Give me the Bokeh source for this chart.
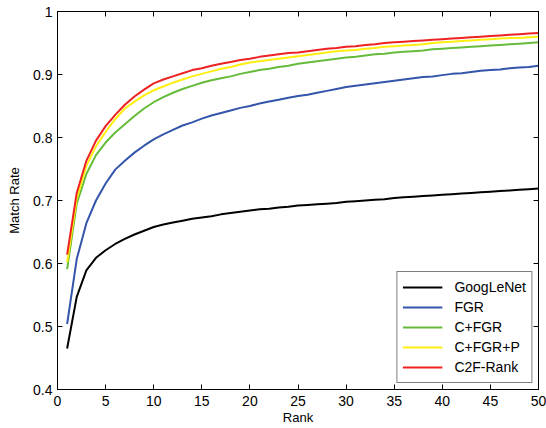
from bokeh.plotting import figure
from bokeh.models import LinearAxis, FixedTicker, CustomJSTickFormatter, Legend, LegendItem
from bokeh.embed import file_html
from bokeh.resources import INLINE

rank = list(range(1, 51))

googlenet = [0.465, 0.547, 0.589, 0.609, 0.621, 0.631, 0.639, 0.646, 0.652, 0.658,
             0.662, 0.665, 0.668, 0.671, 0.673, 0.675, 0.678, 0.680, 0.682, 0.684,
             0.686, 0.687, 0.689, 0.690, 0.692, 0.693, 0.694, 0.695, 0.696, 0.698,
             0.699, 0.700, 0.701, 0.702, 0.704, 0.705, 0.706, 0.707, 0.708, 0.709,
             0.710, 0.711, 0.712, 0.713, 0.714, 0.715, 0.716, 0.717, 0.718, 0.719]
fgr = [0.504, 0.607, 0.664, 0.700, 0.727, 0.749, 0.763, 0.776, 0.787, 0.797,
       0.805, 0.812, 0.819, 0.824, 0.830, 0.835, 0.839, 0.843, 0.847, 0.850,
       0.854, 0.857, 0.860, 0.863, 0.866, 0.868, 0.871, 0.874, 0.877, 0.880,
       0.882, 0.884, 0.886, 0.888, 0.890, 0.892, 0.894, 0.896, 0.897, 0.899,
       0.901, 0.902, 0.904, 0.906, 0.907, 0.908, 0.910, 0.911, 0.912, 0.914]
c_fgr = [0.591, 0.695, 0.742, 0.772, 0.792, 0.808, 0.821, 0.834, 0.846, 0.856,
         0.864, 0.871, 0.877, 0.882, 0.887, 0.891, 0.894, 0.897, 0.901, 0.904,
         0.907, 0.909, 0.912, 0.914, 0.917, 0.919, 0.921, 0.923, 0.925, 0.927,
         0.928, 0.930, 0.932, 0.933, 0.935, 0.936, 0.937, 0.938, 0.940, 0.941,
         0.942, 0.943, 0.944, 0.945, 0.946, 0.947, 0.948, 0.949, 0.950, 0.951]
c_fgr_p = [0.602, 0.703, 0.755, 0.786, 0.809, 0.829, 0.846, 0.857, 0.867, 0.875,
           0.881, 0.887, 0.892, 0.897, 0.901, 0.905, 0.909, 0.912, 0.916, 0.919,
           0.921, 0.923, 0.925, 0.927, 0.929, 0.931, 0.933, 0.935, 0.937, 0.938,
           0.939, 0.941, 0.942, 0.944, 0.945, 0.946, 0.947, 0.948, 0.950, 0.951,
           0.952, 0.953, 0.954, 0.955, 0.956, 0.957, 0.958, 0.958, 0.959, 0.960]
c2f_rank = [0.614, 0.712, 0.763, 0.795, 0.818, 0.836, 0.852, 0.865, 0.876, 0.886,
            0.892, 0.897, 0.902, 0.907, 0.910, 0.914, 0.917, 0.920, 0.923, 0.925,
            0.928, 0.930, 0.932, 0.934, 0.935, 0.937, 0.939, 0.941, 0.942, 0.944,
            0.945, 0.947, 0.948, 0.950, 0.951, 0.952, 0.953, 0.954, 0.955, 0.956,
            0.957, 0.958, 0.959, 0.960, 0.961, 0.962, 0.963, 0.964, 0.965, 0.966]

series_names = ["GoogLeNet", "FGR", "C+FGR", "C+FGR+P", "C2F-Rank"]
series_values = [googlenet, fgr, c_fgr, c_fgr_p, c2f_rank]
series_colors = ["#000000", "#3355aa", "#66bb3a", "#ffee11", "#ee2222"]

x_ticks = [0, 5, 10, 15, 20, 25, 30, 35, 40, 45, 50]
y_ticks = [0.4, 0.5, 0.6, 0.7, 0.8, 0.9, 1.0]

FONT = "Liberation Sans"

p = figure(width=546, height=428, x_range=(0, 50), y_range=(0.4, 1.0),
           output_backend="svg", toolbar_location=None,
           min_border_left=57, min_border_right=8, min_border_top=11, min_border_bottom=39)
p.xgrid.visible = False
p.ygrid.visible = False
p.outline_line_color = "black"
p.outline_line_width = 1
p.background_fill_color = "white"
p.border_fill_color = "white"

renderers = []
for name, vals, col in zip(series_names, series_values, series_colors):
    r = p.line(rank, vals, line_color=col, line_width=2)
    renderers.append((name, r))

fmt = CustomJSTickFormatter(code="return tick.toFixed(1).replace(/\\.0$/, '');")
blank = CustomJSTickFormatter(code="return '';")

def style_axis(ax, labels=True):
    ax.axis_line_color = "black"
    ax.axis_line_width = 1
    ax.major_tick_in = 5
    ax.major_tick_out = 0
    ax.minor_tick_in = 0
    ax.minor_tick_out = 0
    ax.major_tick_line_color = "black"
    if labels:
        ax.major_label_text_font = FONT
        ax.major_label_text_font_size = "14px"
        ax.major_label_text_color = "black"
        ax.axis_label_text_font = FONT
        ax.axis_label_text_font_size = "13px"
        ax.axis_label_text_font_style = "normal"
        ax.axis_label_text_color = "black"
    else:
        ax.formatter = blank
        ax.major_label_standoff = 0
        ax.major_label_text_font_size = "1px"
        ax.axis_label = None

xa = p.xaxis[0]
xa.ticker = FixedTicker(ticks=x_ticks)
xa.axis_label = "Rank"
xa.major_label_standoff = 6
xa.axis_label_standoff = 1
style_axis(xa)

ya = p.yaxis[0]
ya.ticker = FixedTicker(ticks=y_ticks)
ya.formatter = fmt
ya.axis_label = "Match Rate"
ya.major_label_standoff = 5
ya.axis_label_standoff = 8
style_axis(ya)

top = LinearAxis(ticker=FixedTicker(ticks=x_ticks))
style_axis(top, labels=False)
p.add_layout(top, "above")
right = LinearAxis(ticker=FixedTicker(ticks=y_ticks))
style_axis(right, labels=False)
p.add_layout(right, "right")

legend = Legend(items=[LegendItem(label=n, renderers=[r]) for n, r in renderers],
                location="bottom_right")
legend.border_line_color = "black"
legend.border_line_width = 1
legend.background_fill_alpha = 1
legend.margin = 6
legend.padding = 5
legend.spacing = 0
legend.glyph_width = 40
legend.glyph_height = 20
legend.label_height = 20
legend.label_standoff = 12
legend.label_text_font = FONT
legend.label_text_font_size = "14px"
legend.label_text_color = "black"
p.add_layout(legend, "center")

open("out.html", "w").write(file_html(p, INLINE))
